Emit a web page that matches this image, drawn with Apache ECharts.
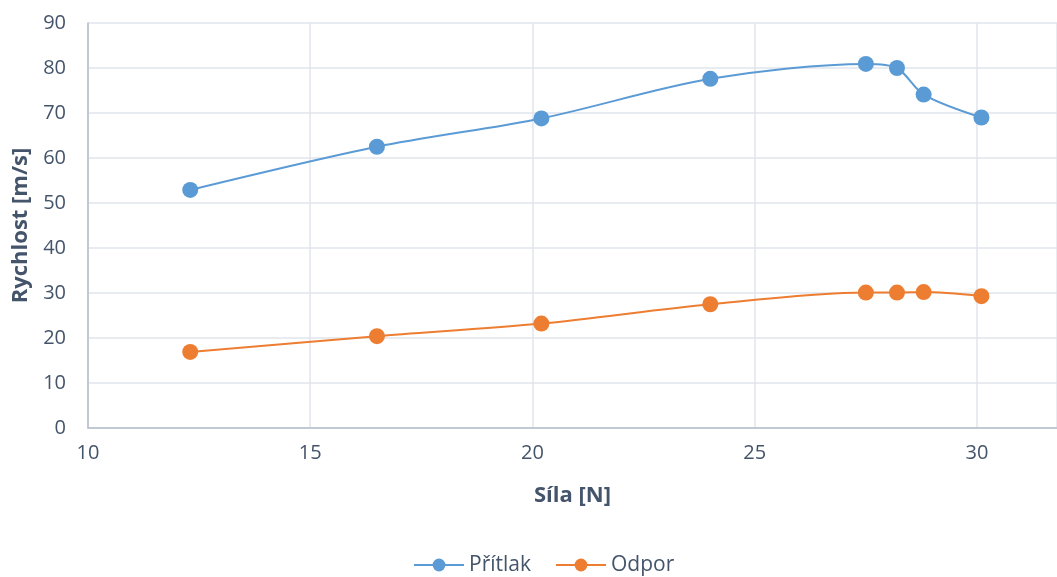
<!DOCTYPE html>
<html>
<head>
<meta charset="utf-8">
<script src="https://cdn.jsdelivr.net/npm/echarts@6/dist/echarts.min.js"></script>
<style>
  html, body { margin: 0; padding: 0; background: #fff; }
  #chart { width: 1057px; height: 577px; }
</style>
</head>
<body>
<div id="chart"></div>
<script>
// Force (N) against speed (m/s) for downforce and drag
const sila = [12.3, 16.5, 20.2, 24.0, 27.5, 28.2, 28.8, 30.1];
const pritlak = [52.9, 62.5, 68.8, 77.6, 80.9, 80.0, 74.1, 69.0];
const odpor = [16.9, 20.4, 23.2, 27.5, 30.1, 30.1, 30.2, 29.3];
const seriesNames = ['Přítlak', 'Odpor'];
const xTitle = 'Síla [N]';
const yTitle = 'Rychlost [m/s]';

const textColor = '#44546A';
const font = '"Open Sans", "Liberation Sans", sans-serif';

function pairs(xs, ys) { return xs.map((x, i) => [x, ys[i]]); }

const chart = echarts.init(document.getElementById('chart'), null, { renderer: 'canvas' });
chart.setOption({
  animation: false,
  textStyle: { fontFamily: font, color: textColor },
  grid: { left: 88, top: 23, right: 0, bottom: 149, containLabel: false, outerBoundsMode: 'none' },
  legend: {
    bottom: 0,
    left: 413,
    padding: 0,
    itemWidth: 50,
    itemHeight: 16,
    itemGap: 24,
    textStyle: { fontFamily: font, fontSize: 21, lineHeight: 24, color: textColor },
    data: seriesNames
  },
  xAxis: {
    type: 'value',
    min: 10,
    max: 31.8,
    interval: 5,
    name: xTitle,
    nameLocation: 'middle',
    nameGap: 57,
    nameTextStyle: { fontFamily: font, fontSize: 22, fontWeight: 'bold', color: textColor },
    axisLine: { show: true, lineStyle: { color: '#B4BECB', width: 1.5 } },
    axisTick: { show: false },
    axisLabel: {
      margin: 15, fontSize: 20, color: textColor, showMaxLabel: false,
      formatter: v => (v % 5 === 0 ? String(v) : '')
    },
    splitLine: { show: true, lineStyle: { color: '#E0E5EB', width: 1.5 } }
  },
  yAxis: {
    type: 'value',
    min: 0,
    max: 90,
    interval: 10,
    name: yTitle,
    nameLocation: 'middle',
    nameGap: 55,
    nameRotate: 90,
    nameTextStyle: { fontFamily: font, fontSize: 22, fontWeight: 'bold', color: textColor },
    axisLine: { show: true, lineStyle: { color: '#B4BECB', width: 1.5 } },
    axisTick: { show: false },
    axisLabel: { margin: 22, fontSize: 20, color: textColor },
    splitLine: { show: true, lineStyle: { color: '#E0E5EB', width: 1.5 } }
  },
  series: [
    {
      name: seriesNames[0],
      type: 'line',
      data: pairs(sila, pritlak),
      smooth: 0.3,
      symbol: 'circle',
      symbolSize: 16,
      lineStyle: { color: '#5B9BD5', width: 2 },
      itemStyle: { color: '#5B9BD5' }
    },
    {
      name: seriesNames[1],
      type: 'line',
      data: pairs(sila, odpor),
      smooth: 0.3,
      symbol: 'circle',
      symbolSize: 16,
      lineStyle: { color: '#ED7D31', width: 2 },
      itemStyle: { color: '#ED7D31' }
    }
  ]
});
</script>
</body>
</html>
